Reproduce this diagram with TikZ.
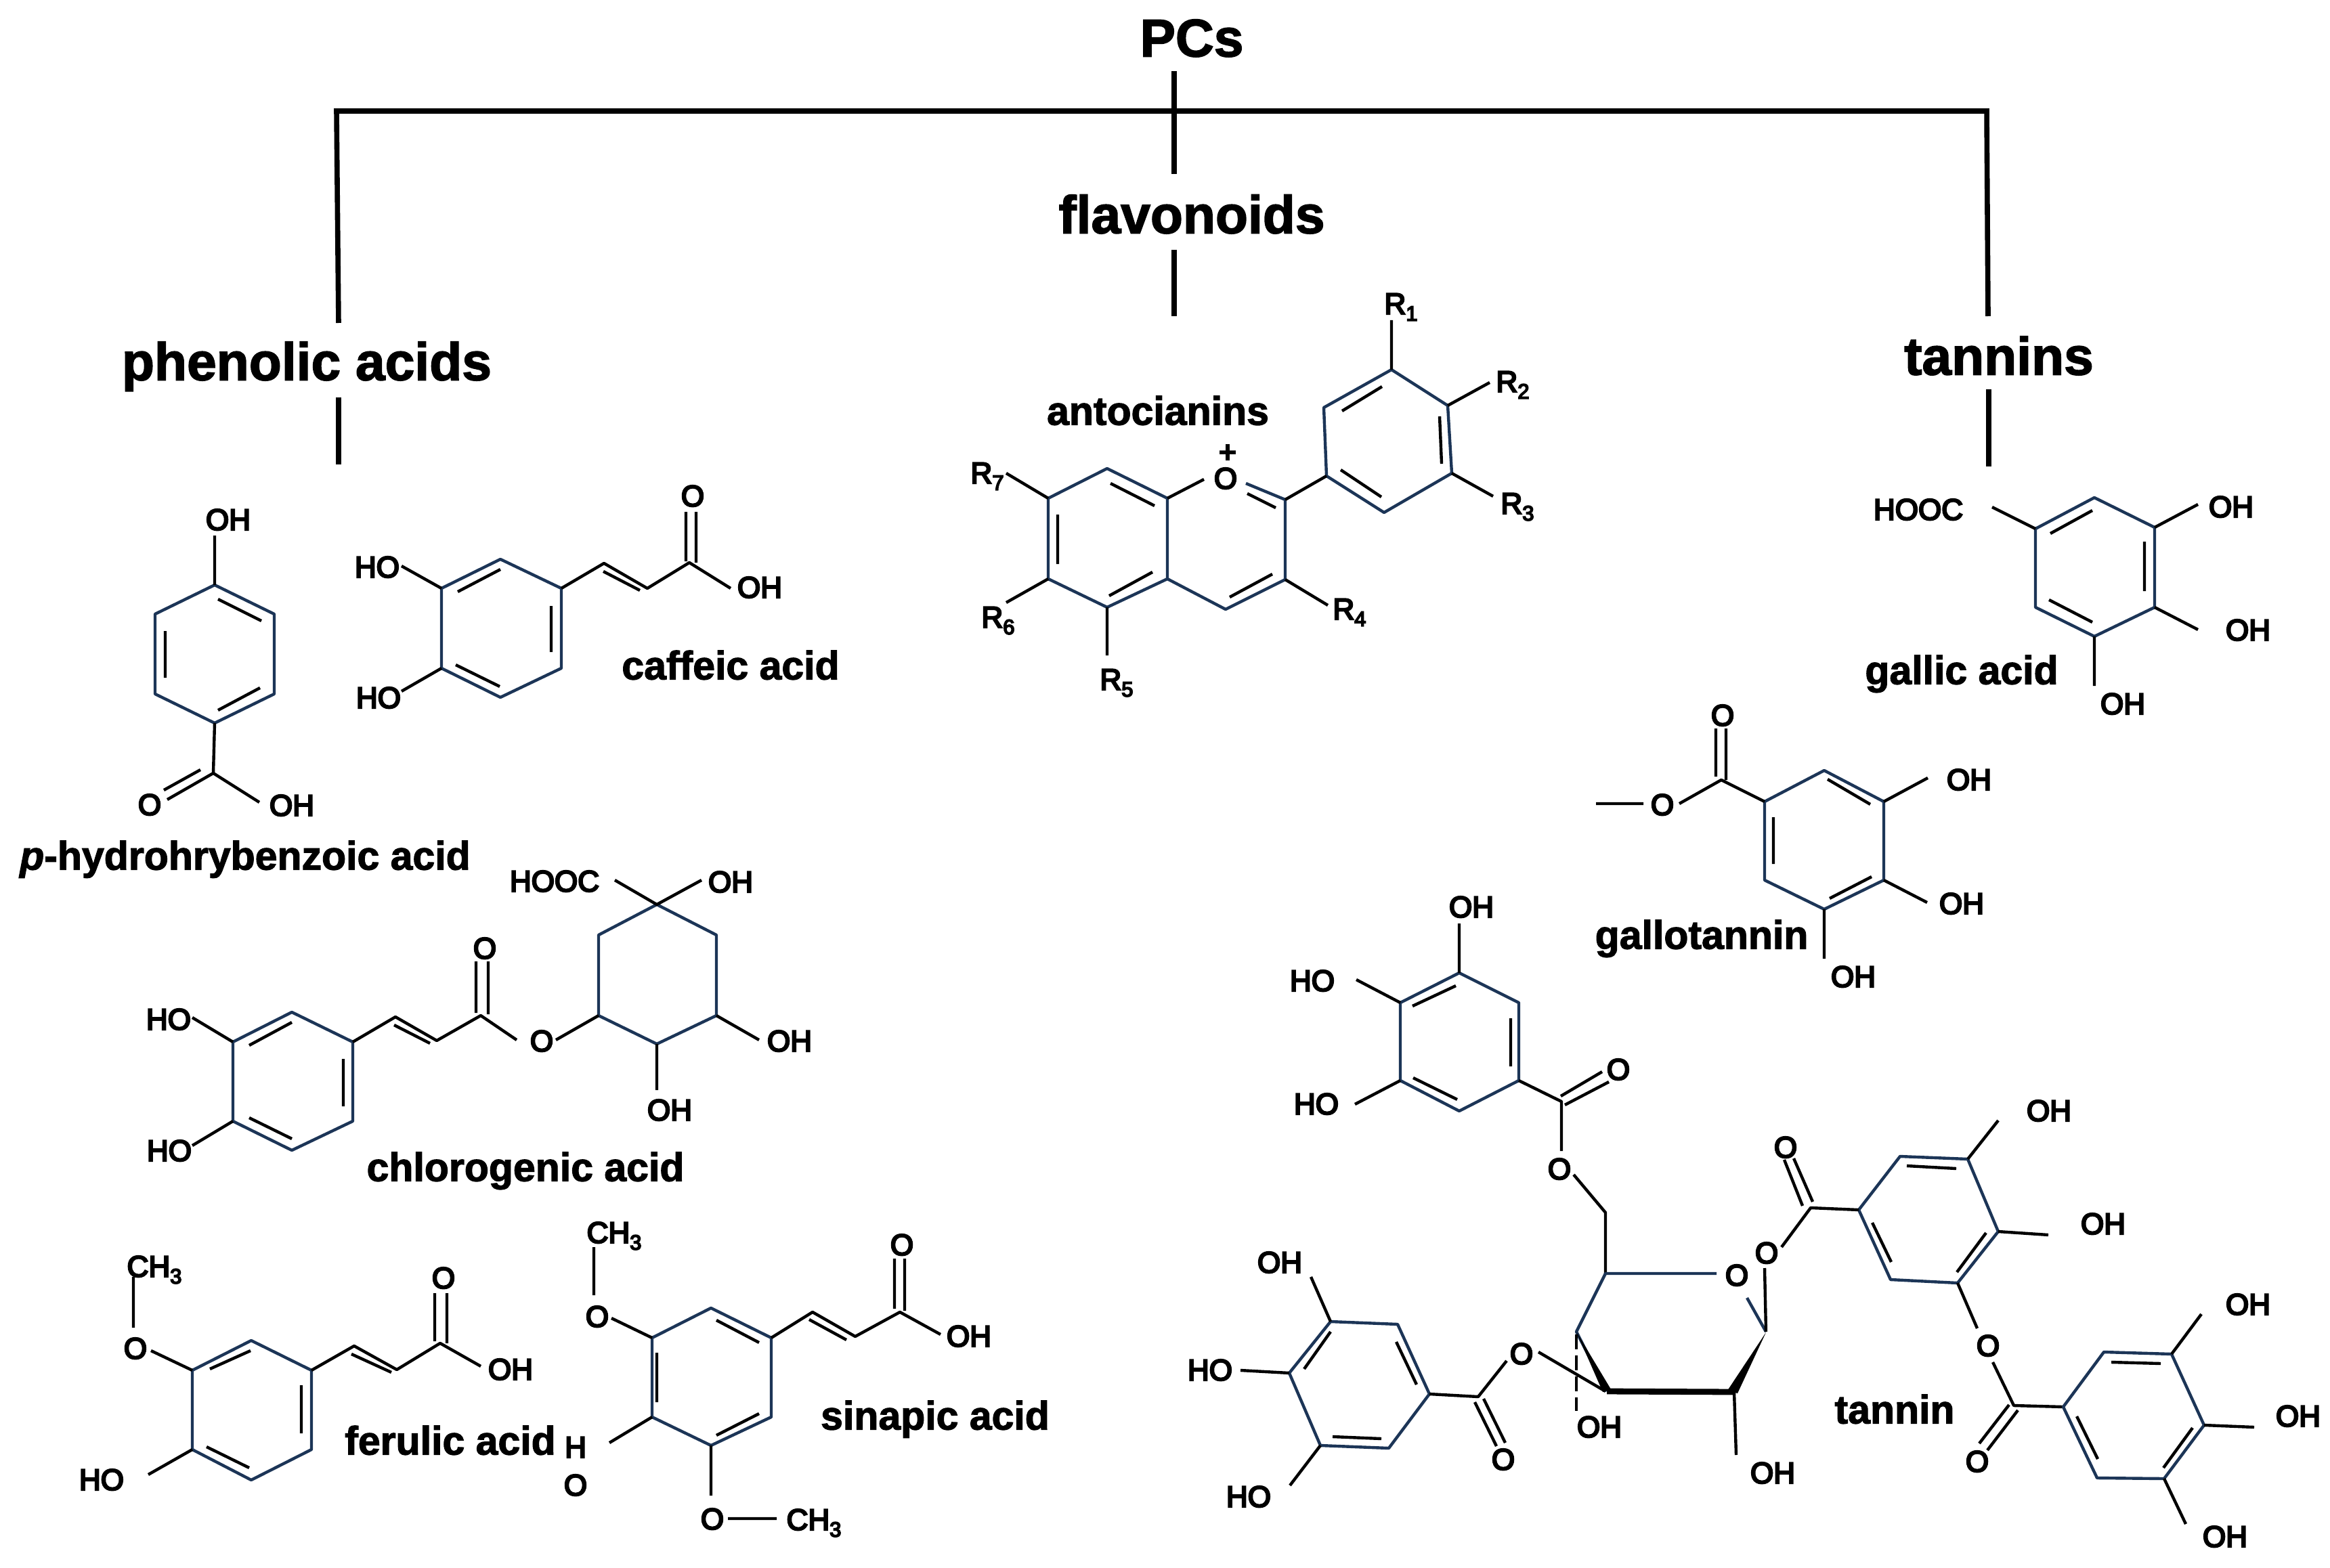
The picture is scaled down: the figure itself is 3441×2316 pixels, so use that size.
\documentclass[tikz,border=0pt]{standalone}
\usepackage{fontspec}
\setmainfont{Liberation Sans}
\newfontfamily\atomfamily[RawFeature={embolden=5.5}]{Liberation Sans}
\newfontfamily\boldfamily[RawFeature={embolden=2}]{Liberation Sans Bold}
\newfontfamily\bolditfamily[RawFeature={embolden=2}]{Liberation Sans Bold Italic}
\definecolor{ringblue}{HTML}{1C3557}
\newcounter{atomno}
\newcommand\atm[3]{\stepcounter{atomno}\node[atomlab] (atom\theatomno) at (#1,#2) {#3};}
\newcommand\Sb[1]{\raisebox{-5pt}{\fontsize{15.5}{15.5}\selectfont #1}}
\tikzset{
  atomlab/.style={font=\atomfamily\fontsize{22}{22}\selectfont,text=black,inner sep=0pt,text height=15.8pt,text depth=0pt,anchor=center},
  namelab/.style={font=\boldfamily\fontsize{29.5}{29.5}\selectfont,text=black,inner sep=0pt,text height=21.5pt,text depth=0pt,anchor=center},
  headlab/.style={font=\boldfamily\fontsize{39.3}{39.3}\selectfont,text=black,inner sep=0pt,text height=28.5pt,text depth=0pt,anchor=center},
  tree/.style={draw=black,line width=3.8pt,line cap=butt,line join=miter},
  bond/.style={draw=black,line width=2.2pt,line cap=butt,line join=round},
  ring/.style={draw=ringblue,line width=2.2pt,line cap=butt,line join=round},
  inner/.style={draw=black,line width=2.2pt,line cap=butt}
}
\begin{document}
\begin{tikzpicture}[x=0.5pt,y=-0.5pt]
\useasboundingbox (0,0) rectangle (3441,2316);
% ---------- tree ----------
\node[headlab] (pcs) at (1760,55) {PCs};
\node[headlab] (flav) at (1760,316) {flavonoids};
\node[headlab] (phen) at (453,533) {phenolic acids};
\node[headlab] (tann) at (2952,525) {tannins};
\coordinate (top) at (1734,105);
\coordinate (jm) at (1734,164);
\coordinate (jl) at (497,164);
\coordinate (jr) at (2934,164);
\coordinate (fa) at (1734,257);
\coordinate (fb) at (1734,369);
\coordinate (fc) at (1734,467);
\coordinate (la) at (500,477);
\coordinate (lb) at (500,587);
\coordinate (lc) at (500,686);
\coordinate (ra) at (2936,467);
\coordinate (rb) at (2937,575);
\coordinate (rc) at (2937,689);
\draw[tree] (la) -- (jl) -- (jr) -- (ra);
\draw[tree] (top) -- (fa);
\draw[tree] (fb) -- (fc);
\draw[tree] (lb) -- (lc);
\draw[tree] (rb) -- (rc);
% ---------- p-hydroxybenzoic ----------
\draw[ring] (317,864)--(405,907)--(405,1025)--(317,1068)--(229,1025)--(229,907)--cycle;
\draw[inner] (322,885)--(386,917) (244,932)--(244,1001) (322,1049)--(384,1016);
\draw[bond] (317,864)--(317,791) (317,1068)--(315,1142)--(383,1185) (315,1142)--(247,1181) (296,1137)--(242,1167);
\atm{337}{767}{OH}\atm{221}{1188}{O}\atm{431}{1189}{OH}
\node[namelab] (phba) at (362,1263) {{\bolditfamily p}-hydrohrybenzoic acid};
% ---------- caffeic ----------
\draw[ring] (739,826)--(829,869)--(829,987)--(739,1030)--(652,987)--(652,869)--cycle;
\draw[inner] (676,874)--(739,841) (814,895)--(814,963) (673,982)--(738,1014);
\draw[bond] (652,869)--(593,836) (652,987)--(593,1021) (829,869)--(892,832)--(956,869)--(1018,831)--(1079,869) (891,844)--(945,872) (1013,756)--(1013,829) (1028,756)--(1028,831);
\atm{557}{837}{HO}\atm{559}{1030}{HO}\atm{1122}{867}{OH}\atm{1023}{732}{O}
\node[namelab] (caff) at (1079,982) {caffeic acid};
% ---------- anthocyanins ----------
\draw[ring] (1724,736)--(1635,692)--(1548,736)--(1548,855)--(1635,897)--(1724,855)--cycle;
\draw[ring] (1724,855)--(1810,900)--(1898,856)--(1898,738)--(1840,714);
\draw[ring] (1959,703)--(2044,757)--(2144,699)--(2138,599)--(2055,546)--(1955,602)--cycle;
\draw[inner] (1640,714)--(1705,747) (1562,760)--(1562,833) (1638,880)--(1702,845) (1842,729)--(1884,750) (1816,882)--(1879,848) (1980,694)--(2040,734) (2126,615)--(2129,685) (1982,607)--(2041,571);
\draw[bond] (1724,736)--(1778,708) (1898,738)--(1959,703) (2055,546)--(2055,473) (2138,599)--(2200,565) (2144,699)--(2205,733) (1898,856)--(1961,894) (1635,897)--(1635,968) (1548,855)--(1486,890) (1548,736)--(1486,699);
\atm{1810}{706}{O}\atm{1813}{667}{+}
\atm{2069}{448}{R\Sb{1}}\atm{2234}{563}{R\Sb{2}}\atm{2241}{743}{R\Sb{3}}\atm{1993}{899}{R\Sb{4}}\atm{1649}{1003}{R\Sb{5}}\atm{1474}{911}{R\Sb{6}}\atm{1458}{698}{R\Sb{7}}
\node[namelab] (anto) at (1710,606) {antocianins};
% ---------- gallic ----------
\draw[ring] (3093,735)--(3182,779)--(3182,897)--(3093,940)--(3006,897)--(3006,781)--cycle;
\draw[inner] (3028,788)--(3090,754) (3167,800)--(3167,873) (3026,886)--(3090,919);
\draw[bond] (2942,749)--(3006,781) (3182,779)--(3246,745) (3182,897)--(3246,930) (3093,940)--(3093,1013);
\atm{2833}{752}{HOOC}\atm{3295}{748}{OH}\atm{3320}{930}{OH}\atm{3135}{1039}{OH}
\node[namelab] (gall) at (2897,989) {gallic acid};
% ---------- gallotannin ----------
\draw[ring] (2694,1138)--(2782,1184)--(2782,1300)--(2694,1343)--(2606,1300)--(2606,1184)--cycle;
\draw[inner] (2699,1151)--(2762,1188) (2619,1207)--(2619,1276) (2702,1327)--(2764,1295);
\draw[bond] (2606,1184)--(2542,1152)--(2480,1187) (2357,1187)--(2427,1187) (2534,1147)--(2534,1076) (2549,1152)--(2549,1076) (2782,1184)--(2847,1149) (2782,1300)--(2846,1333) (2694,1343)--(2694,1416);
\atm{2455}{1188}{O}\atm{2544}{1056}{O}\atm{2908}{1151}{OH}\atm{2897}{1334}{OH}\atm{2737}{1442}{OH}
\node[namelab] (gtan) at (2513,1380) {gallotannin};
% ---------- chlorogenic ----------
\draw[ring] (970,1336)--(1058,1381)--(1058,1500)--(970,1542)--(884,1500)--(884,1381)--cycle;
\draw[ring] (431,1495)--(521,1539)--(521,1656)--(431,1699)--(344,1656)--(344,1539)--cycle;
\draw[inner] (368,1544)--(431,1510) (507,1564)--(507,1634) (368,1651)--(431,1682) (582,1514)--(635,1541);
\draw[bond] (908,1300)--(970,1336)--(1036,1300) (1058,1500)--(1121,1536) (970,1542)--(970,1610) (884,1500)--(821,1536) (763,1536)--(710,1500)--(645,1537)--(584,1502)--(521,1539) (703,1420)--(703,1496) (721,1420)--(721,1498) (344,1539)--(284,1503) (344,1656)--(284,1692);
\atm{819}{1301}{HOOC}\atm{1079}{1302}{OH}\atm{1166}{1537}{OH}\atm{989}{1639}{OH}\atm{800}{1537}{O}\atm{716}{1400}{O}\atm{249}{1505}{HO}\atm{250}{1699}{HO}
\node[namelab] (chlo) at (776,1723) {chlorogenic acid};
% ---------- ferulic ----------
\draw[ring] (371,1980)--(460,2024)--(460,2141)--(371,2186)--(284,2141)--(284,2024)--cycle;
\draw[inner] (310,2022)--(370,1995) (445,2046)--(445,2117) (305,2137)--(368,2168) (519,2000)--(578,2027);
\draw[bond] (284,2024)--(223,1995) (197,1886)--(197,1961) (284,2141)--(219,2178) (460,2024)--(523,1988)--(586,2023)--(650,1984)--(710,2018) (642,1910)--(642,1981) (660,1910)--(660,1984);
\atm{200}{1991}{O}\atm{228}{1870}{CH\Sb{3}}\atm{150}{2185}{HO}\atm{655}{1887}{O}\atm{754}{2022}{OH}
\node[namelab] (feru) at (665,2127) {ferulic acid};
% ---------- sinapic ----------
\draw[ring] (1050,1932)--(1139,1976)--(1139,2093)--(1050,2135)--(963,2093)--(963,1976)--cycle;
\draw[inner] (1058,1950)--(1121,1983) (970,1998)--(970,2071) (1058,2120)--(1121,2088) (1195,1949)--(1250,1979);
\draw[bond] (963,1976)--(903,1947) (877,1842)--(877,1913) (963,2093)--(900,2131) (1050,2135)--(1050,2209) (1075,2243)--(1147,2243) (1139,1976)--(1200,1938)--(1263,1974)--(1329,1938)--(1389,1971) (1321,1859)--(1321,1933) (1336,1859)--(1336,1936);
\atm{882}{1944}{O}\atm{907}{1820}{CH\Sb{3}}\atm{850}{2137}{H}\atm{850}{2193}{O}\atm{1052}{2243}{O}\atm{1202}{2244}{CH\Sb{3}}\atm{1332}{1838}{O}\atm{1431}{1973}{OH}
\node[namelab] (sina) at (1381,2090) {sinapic acid};
% ---------- tannin: top galloyl ----------
\draw[ring] (2155,1437)--(2243,1481)--(2243,1596)--(2155,1641)--(2068,1596)--(2068,1481)--cycle;
\draw[inner] (2086,1486)--(2150,1456) (2231,1504)--(2231,1575) (2087,1592)--(2152,1624);
\draw[bond] (2155,1437)--(2155,1364) (2068,1481)--(2003,1447) (2068,1596)--(2001,1631) (2243,1596)--(2306,1627)--(2306,1700) (2305,1619)--(2366,1583) (2311,1632)--(2376,1598) (2324,1735)--(2371,1791)--(2371,1881);
\atm{2173}{1339}{OH}\atm{1938}{1448}{HO}\atm{1944}{1630}{HO}\atm{2390}{1579}{O}\atm{2303}{1726}{O}
% ---------- sugar ----------
\draw[ring] (2535,1881)--(2371,1881)--(2328,1967)--(2373,2055);
\draw[ring] (2580,1917)--(2608,1967);
\fill[black] (2608,1968)--(2551,2054)--(2566,2058)--cycle;
\fill[black] (2328,1967)--(2367,2056)--(2379,2052)--cycle;
\draw[bond,line width=4.4pt] (2373,2055)--(2561,2056);
\draw[bond] (2608,1967)--(2606,1873) (2561,2056)--(2564,2149) (2272,1997)--(2371,2055);
\draw[bond,dash pattern=on 11pt off 4.5pt] (2328,1971)--(2328,2084);
\atm{2565}{1883}{O}\atm{2609}{1850}{O}\atm{2362}{2107}{OH}\atm{2618}{2175}{OH}\atm{2247}{1999}{O}
% ---------- tannin: left galloyl ----------
\draw[ring] (2111,2059)--(2064,1956)--(1965,1952)--(1904,2028)--(1950,2135)--(2051,2139)--cycle;
\draw[inner] (2062,1982)--(2092,2045) (1965,1967)--(1926,2022) (1968,2122)--(2040,2125);
\draw[bond] (2225,2010)--(2183,2063)--(2111,2059) (2178,2071)--(2210,2136) (2191,2066)--(2223,2131) (1965,1952)--(1936,1886) (1904,2028)--(1832,2024) (1950,2135)--(1905,2194);
\atm{2220}{2155}{O}\atm{1890}{1864}{OH}\atm{1787}{2023}{HO}\atm{1844}{2210}{HO}
% ---------- tannin: right galloyl ----------
\draw[ring] (2745,1787)--(2806,1708)--(2906,1712)--(2951,1819)--(2891,1895)--(2792,1890)--cycle;
\draw[inner] (2816,1722)--(2889,1726) (2933,1821)--(2890,1879) (2765,1806)--(2793,1864);
\draw[bond] (2631,1842)--(2674,1784)--(2745,1787) (2662,1781)--(2635,1713) (2677,1775)--(2649,1711) (2906,1712)--(2951,1655) (2951,1819)--(3025,1824) (2891,1895)--(2920,1962) (2943,2012)--(2974,2076)--(3047,2078) (2967,2075)--(2923,2132) (2980,2083)--(2935,2142);
\atm{2637}{1694}{O}\atm{3026}{1640}{OH}\atm{3106}{1807}{OH}\atm{2936}{1987}{O}\atm{2920}{2158}{O}
% ---------- tannin: far right galloyl ----------
\draw[ring] (3047,2078)--(3107,1997)--(3207,2000)--(3255,2105)--(3196,2184)--(3097,2183)--cycle;
\draw[inner] (3118,2012)--(3191,2014) (3238,2109)--(3195,2168) (3067,2092)--(3098,2155);
\draw[bond] (3207,2000)--(3251,1941) (3255,2105)--(3329,2108) (3196,2184)--(3228,2251);
\atm{3320}{1926}{OH}\atm{3394}{2091}{OH}\atm{3286}{2269}{OH}
\node[namelab] (tanl) at (2798,2081) {tannin};
\end{tikzpicture}
\end{document}
